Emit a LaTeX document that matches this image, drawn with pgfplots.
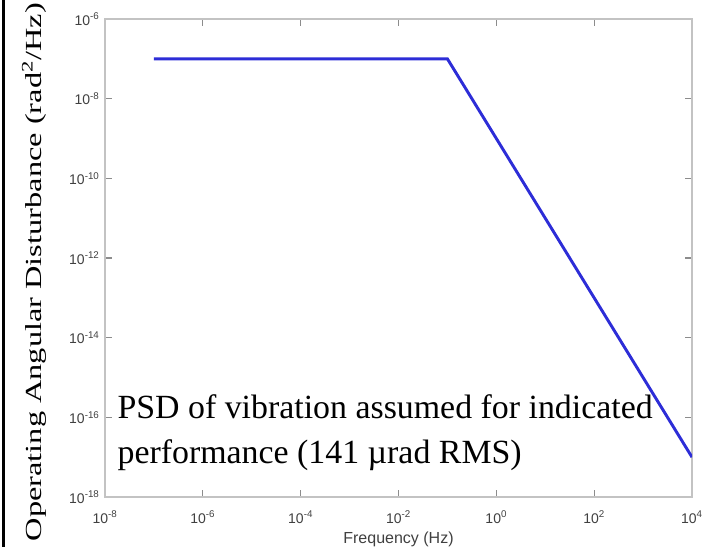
\documentclass[border=0pt]{standalone}
\usepackage{pgfplots}
\pgfplotsset{compat=1.18}
\usepackage{fontspec}
\setmainfont{Liberation Serif}
\setsansfont{Liberation Sans}
\definecolor{psdblue}{RGB}{45,45,215}
\definecolor{boxgray}{RGB}{195,195,195}
\definecolor{tickgray}{RGB}{140,140,140}
\begin{document}
\begin{tikzpicture}
  \begin{axis}[
    name=ax,
    scale only axis,
    width=440.25pt, height=358.5pt,
    xmode=log, ymode=log,
    xmin=1e-8, xmax=1e4,
    ymin=1e-18, ymax=1e-6,
    xtick={1e-8,1e-6,1e-4,1e-2,1,1e2,1e4},
    xticklabels={10\textsuperscript{-8},10\textsuperscript{-6},10\textsuperscript{-4},10\textsuperscript{-2},10\textsuperscript{0},10\textsuperscript{2},10\textsuperscript{4}},
    ytick={1e-18,1e-16,1e-14,1e-12,1e-10,1e-8,1e-6},
    yticklabels={10\textsuperscript{-18},10\textsuperscript{-16},10\textsuperscript{-14},10\textsuperscript{-12},10\textsuperscript{-10},10\textsuperscript{-8},10\textsuperscript{-6}},
    minor xtick={}, minor ytick={},
    tick align=inside,
    major tick length=5pt,
    every tick/.style={tickgray, line width=0.8pt},
    axis line style={boxgray, line width=1.6pt},
    ticklabel style={font=\sffamily\fontsize{10.5}{11}\selectfont, text=black!75},
    xticklabel style={yshift=-7pt},
    yticklabel style={xshift=-0.5pt},
    xlabel={Frequency (Hz)},
    xlabel style={font=\sffamily\fontsize{12}{13}\selectfont, text=black!75,
      at={(rel axis cs:0.5,-0.0962)}, anchor=base},
    ylabel={\scalebox{1.408}[1]{Operating Angular Disturbance (rad\textsuperscript{2}/Hz)}},
    ylabel style={font=\fontsize{17.25}{19}\selectfont, inner sep=0pt,
      at={(rel axis cs:-0.109,0.4707)}, anchor=base},
  ]

  % PSD: flat, then -2 slope
  \addplot[psdblue, line width=2.2pt] coordinates {
    (1e-7,1e-7)
    (1e-1,1e-7)
    (1e4,1e-17)
  };

  \node[anchor=base west, inner sep=0pt, font=\fontsize{25.4}{30}\selectfont]
    at (rel axis cs:0.021,0.1653) {PSD of vibration assumed for indicated};
  \node[anchor=base west, inner sep=0pt, font=\fontsize{25.4}{30}\selectfont]
    at (rel axis cs:0.021,0.0711) {performance (141 µrad RMS)};
  \end{axis}
  \pgfresetboundingbox
  \path[use as bounding box]
    ([xshift=-78.75pt,yshift=-37.5pt]ax.south west) rectangle
    ([xshift=18.75pt,yshift=14.25pt]ax.north east);
  % frame line near the left edge of the picture
  \fill[black] ([xshift=-77.5pt,yshift=14.25pt]ax.north west) rectangle
    ([xshift=-75pt,yshift=-37.5pt]ax.south west);
\end{tikzpicture}
\end{document}
